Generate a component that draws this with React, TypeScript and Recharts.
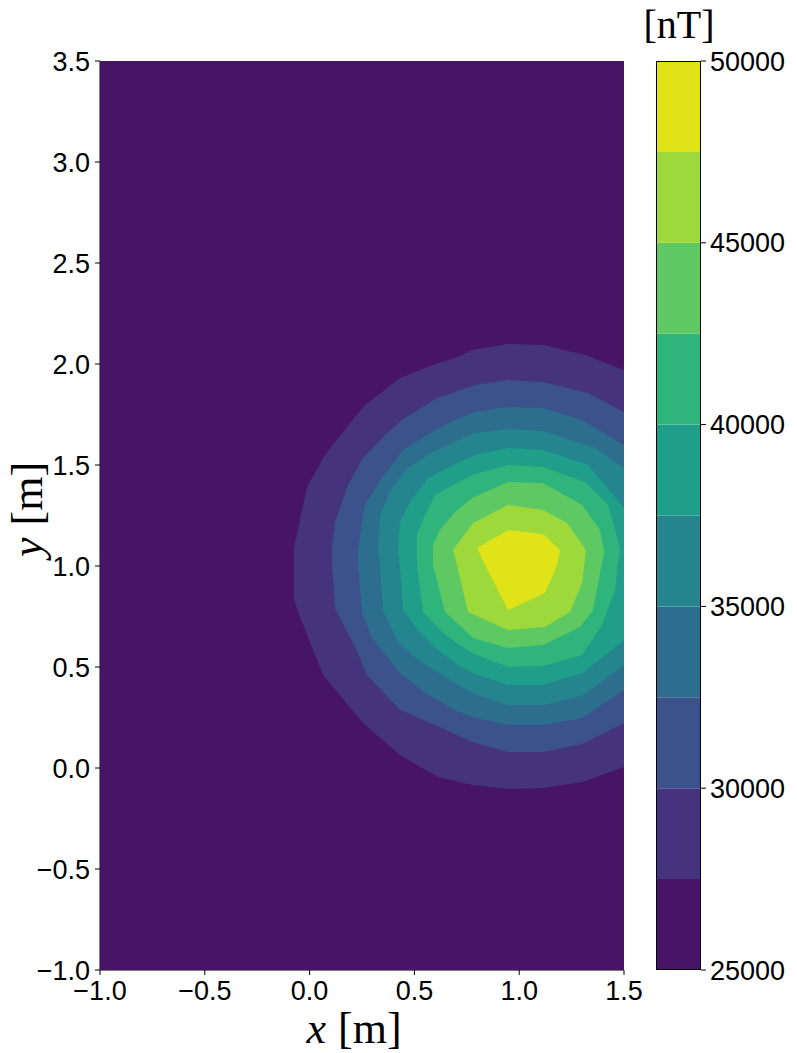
import React from "react";
import { ComposedChart, Scatter, XAxis, YAxis, BarChart, Bar } from "recharts";

// axis ticks
const xTicks = [-1, -0.5, 0, 0.5, 1, 1.5];
const yTicks = [-1, -0.5, 0, 0.5, 1, 1.5, 2, 2.5, 3, 3.5];

// contour levels [nT] and their fill colours (viridis)
const levels = [25000, 27500, 30000, 32500, 35000, 37500, 40000, 42500, 45000, 47500, 50000];
const cbarTicks = [25000, 30000, 35000, 40000, 45000, 50000];
const bandColors = [
  "#481467", "#46337e", "#3b528b", "#2d6e8e", "#25858e",
  "#1f9e89", "#2fb47c", "#5ec962", "#9dd93b", "#dfe318",
];

// regions above each level as (x, y) in metres
const above25000: [number, number][] = [[-1, -1], [1.5, -1], [1.5, 3.5], [-1, 3.5]];
const above27500: [number, number][] = [
  [1.5, 1.97], [1.314, 2.045], [1.114, 2.094], [0.947, 2.099], [0.775, 2.069], [0.694, 2.03],
  [0.613, 2.005], [0.431, 1.931], [0.264, 1.797], [0.159, 1.663], [0.073, 1.55], [-0.012, 1.391],
  [-0.075, 1.089], [-0.075, 0.842], [-0.055, 0.772], [0.064, 0.46], [0.255, 0.223], [0.431, 0.064],
  [0.613, -0.045], [0.775, -0.084], [0.947, -0.104], [1.114, -0.099], [1.3, -0.069], [1.5, 0.005],
];
const above30000: [number, number][] = [
  [1.5, 1.762], [1.328, 1.856], [1.114, 1.911], [0.947, 1.921], [0.789, 1.896], [0.694, 1.861],
  [0.608, 1.832], [0.441, 1.723], [0.36, 1.649], [0.255, 1.535], [0.183, 1.401], [0.121, 1.218],
  [0.107, 1.089], [0.107, 1.005], [0.121, 0.792], [0.217, 0.599], [0.274, 0.46], [0.431, 0.287],
  [0.632, 0.198], [0.775, 0.129], [0.947, 0.079], [1.114, 0.079], [1.3, 0.119], [1.5, 0.223],
];
const above32500: [number, number][] = [
  [1.5, 1.599], [1.3, 1.723], [1.114, 1.782], [0.947, 1.787], [0.789, 1.762], [0.694, 1.723],
  [0.584, 1.663], [0.446, 1.574], [0.345, 1.436], [0.264, 1.302], [0.231, 1.089], [0.231, 1.005],
  [0.25, 0.772], [0.298, 0.644], [0.431, 0.47], [0.551, 0.371], [0.694, 0.287], [0.775, 0.252],
  [0.947, 0.213], [1.114, 0.213], [1.3, 0.248], [1.5, 0.386],
];
const above35000: [number, number][] = [
  [1.5, 1.485], [1.362, 1.584], [1.114, 1.668], [0.947, 1.678], [0.789, 1.658], [0.694, 1.614],
  [0.589, 1.564], [0.469, 1.485], [0.393, 1.386], [0.336, 1.252], [0.326, 1.089], [0.336, 1.005],
  [0.35, 0.782], [0.422, 0.624], [0.517, 0.535], [0.694, 0.421], [0.775, 0.371], [0.947, 0.312],
  [1.114, 0.312], [1.3, 0.356], [1.5, 0.51],
];
const above37500: [number, number][] = [
  [1.5, 1.287], [1.328, 1.5], [1.114, 1.574], [0.947, 1.584], [0.789, 1.55], [0.694, 1.505],
  [0.565, 1.436], [0.479, 1.317], [0.431, 1.218], [0.422, 1.089], [0.431, 1.005], [0.446, 0.782],
  [0.517, 0.683], [0.613, 0.584], [0.694, 0.52], [0.775, 0.47], [0.947, 0.411], [1.114, 0.411],
  [1.3, 0.47], [1.424, 0.569], [1.5, 0.634],
];
const above40000: [number, number][] = [
  [1.481, 1.089], [1.424, 1.302], [1.314, 1.416], [1.114, 1.49], [0.947, 1.5], [0.775, 1.45],
  [0.694, 1.406], [0.598, 1.351], [0.551, 1.252], [0.512, 1.153], [0.512, 1.005], [0.541, 0.772],
  [0.632, 0.673], [0.694, 0.624], [0.775, 0.569], [0.947, 0.5], [1.114, 0.505], [1.3, 0.559],
  [1.395, 0.708], [1.457, 0.881],
];
const above42500: [number, number][] = [
  [1.405, 1.069], [1.385, 1.178], [1.3, 1.302], [1.114, 1.411], [0.947, 1.416], [0.775, 1.337],
  [0.694, 1.267], [0.622, 1.178], [0.589, 1.104], [0.589, 1.005], [0.646, 0.772], [0.78, 0.644],
  [0.947, 0.594], [1.114, 0.609], [1.29, 0.698], [1.352, 0.782],
];
const above45000: [number, number][] = [
  [1.319, 1.079], [1.228, 1.213], [1.114, 1.277], [0.947, 1.302], [0.78, 1.213], [0.684, 1.079],
  [0.703, 1.005], [0.756, 0.772], [0.947, 0.683], [1.123, 0.698], [1.242, 0.772], [1.3, 0.916],
];
const above47500: [number, number][] = [
  [1.195, 1.079], [1.114, 1.158], [0.947, 1.178], [0.799, 1.089], [0.837, 1.005], [0.947, 0.782],
  [1.123, 0.866], [1.18, 1.005],
];

const regions = [
  above25000, above27500, above30000, above32500, above35000,
  above37500, above40000, above42500, above45000, above47500,
];

const tickFont = { fill: "#000", fontSize: 27, fontFamily: "'Liberation Sans', Arial, sans-serif" };
const serif = "'Liberation Serif', 'Times New Roman', serif";
const fmt = (v: number) => v.toFixed(1).replace("-", "\u2212");

// one row for the colour bar: a hidden base up to the first level, then one block per band
const cbarRow: Record<string, number | string> = { name: "cb", base: levels[0] };
bandColors.forEach((_, i) => {
  cbarRow[`b${i}`] = levels[i + 1] - levels[i];
});
const cbarData = [cbarRow];

const XLabel = (props: any) => {
  const { x, y, width } = props.viewBox;
  return (
    <text x={x + width / 2 - 8} y={y + 73} textAnchor="middle" fontFamily={serif} fontSize={44} fill="#000">
      <tspan fontStyle="italic">x</tspan>
      <tspan dx={12}>[m]</tspan>
    </text>
  );
};

const YLabel = (props: any) => {
  const { y, height } = props.viewBox;
  const cx = 42;
  const cy = y + height / 2 - 6;
  return (
    <text x={cx} y={cy} textAnchor="middle" fontFamily={serif} fontSize={44} fill="#000" transform={`rotate(-90, ${cx}, ${cy})`}>
      <tspan fontStyle="italic">y</tspan>
      <tspan dx={12}>[m]</tspan>
    </text>
  );
};

const UnitLabel = (props: any) => {
  const { x } = props.viewBox;
  return (
    <text x={x - 22} y={38} textAnchor="middle" fontFamily={serif} fontSize={40} fill="#000">
      [nT]
    </text>
  );
};

export default function App() {
  return (
    <div style={{ position: "absolute", left: 0, top: 0, width: 797, height: 1053, background: "#fff" }}>
      <div style={{ position: "absolute", left: 0, top: 0 }}>
        <ComposedChart width={797} height={1053} margin={{ top: 61, right: 173, bottom: 0, left: 0 }}>
          {regions.map((pts, i) => (
            <Scatter
              key={levels[i]}
              data={pts.map(([x, y]) => ({ x, y }))}
              isAnimationActive={false}
              fill={bandColors[i]}
              line={{ fill: bandColors[i], stroke: "none" }}
              lineType="joint"
              shape={() => <g />}
            />
          ))}
          <XAxis
            type="number"
            dataKey="x"
            domain={[-1, 1.5]}
            ticks={xTicks}
            interval={0}
            allowDataOverflow
            height={83}
            tickSize={5}
            tickMargin={6}
            tickFormatter={fmt}
            tick={tickFont}
            tickLine={{ stroke: "#000" }}
            axisLine={{ stroke: "#000" }}
            label={<XLabel />}
          />
          <YAxis
            type="number"
            dataKey="y"
            domain={[-1, 3.5]}
            ticks={yTicks}
            interval={0}
            allowDataOverflow
            width={100}
            tickSize={5}
            tickMargin={5}
            tickFormatter={fmt}
            tick={tickFont}
            tickLine={{ stroke: "#000" }}
            axisLine={{ stroke: "#000" }}
            label={<YLabel />}
          />
          <XAxis xAxisId="top" orientation="top" type="number" domain={[-1, 1.5]} height={0} tick={false} tickLine={false} axisLine={{ stroke: "#000" }} />
          <YAxis yAxisId="right" orientation="right" type="number" domain={[-1, 3.5]} width={0} tick={false} tickLine={false} axisLine={{ stroke: "#000" }} />
        </ComposedChart>
      </div>
      <div style={{ position: "absolute", left: 616, top: 0 }}>
        <BarChart width={181} height={1053} data={cbarData} margin={{ top: 61, right: 0, bottom: 83, left: 40 }} barCategoryGap={0}>
          <XAxis dataKey="name" hide />
          <YAxis
            orientation="right"
            type="number"
            domain={[levels[0], levels[levels.length - 1]]}
            ticks={cbarTicks}
            interval={0}
            allowDataOverflow
            width={96}
            tickSize={5}
            tickMargin={4}
            tick={tickFont}
            tickLine={{ stroke: "#000" }}
            axisLine={false}
            label={<UnitLabel />}
          />
          <Bar dataKey="base" stackId="cb" fill="none" isAnimationActive={false} />
          {bandColors.map((c, i) => (
            <Bar key={c} dataKey={`b${i}`} stackId="cb" fill={c} isAnimationActive={false} />
          ))}
        </BarChart>
        <div style={{ position: "absolute", left: 40, top: 61, width: 45, height: 909, border: "1px solid #000", boxSizing: "border-box", pointerEvents: "none" }} />
      </div>
    </div>
  );
}
